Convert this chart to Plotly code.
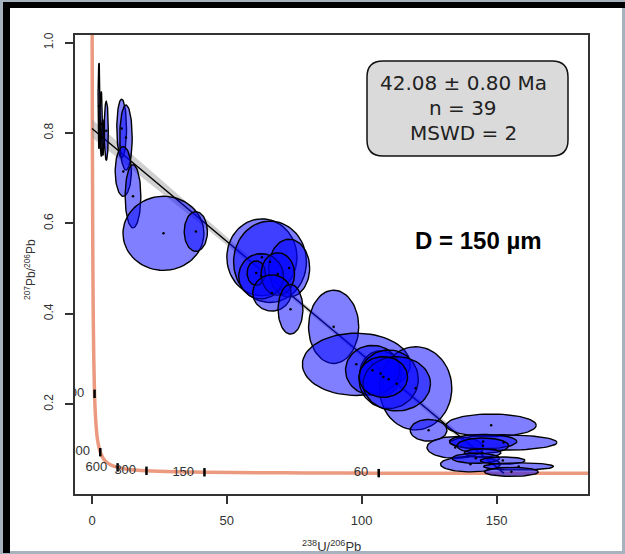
import numpy as np
import plotly.graph_objects as go

W, H = 625, 554
ML, MR, MT, MB = 75, 37, 35, 60
PW = W - ML - MR
PH = H - MT - MB

def X(px):
    return (px - ML) / PW

def Y(py):
    return (H - MB - py) / PH

# ---------------- data ----------------
# error ellipses: centre and semi-axes (data units)
ell_x = [2.6, 3.4, 5.3, 2.9, 4.0,
         11.0, 12.6, 11.6, 15.2,
         26.5, 38.5,
         63.0, 66.0, 73.1, 62.7, 60.9, 68.9, 66.7, 73.6,
         89.6,
         98.0, 107.0, 120.0, 104.0, 110.0, 113.0, 108.0, 124.8, 134.7,
         148.0, 152.6, 145.0, 144.9, 144.8, 140.3, 142.3, 152.3, 158.2, 155.5]
ell_y = [0.860, 0.820, 0.805, 0.800, 0.790,
         0.810, 0.790, 0.715, 0.660,
         0.578, 0.582,
         0.525, 0.515, 0.501, 0.483, 0.490, 0.488, 0.446, 0.410,
         0.371,
         0.288, 0.268, 0.235, 0.275, 0.255, 0.245, 0.260, 0.142, 0.104,
         0.153, 0.115, 0.117, 0.108, 0.092, 0.067, 0.080, 0.075, 0.062, 0.050]
ell_sx = [0.35, 0.45, 0.75, 0.30, 0.40,
          1.8, 2.3, 3.0, 2.9,
          15.0, 4.3,
          13.0, 13.5, 7.6, 8.3, 3.4, 6.2, 7.1, 4.6,
          9.3,
          20.0, 7.7, 13.4, 10.0, 11.0, 12.5, 9.0, 6.8, 10.5,
          16.7, 19.8, 12.5, 9.6, 6.8, 11.1, 8.8, 8.3, 13.0, 10.0]
ell_sy = [0.095, 0.072, 0.065, 0.030, 0.040,
          0.065, 0.072, 0.055, 0.070,
          0.082, 0.044,
          0.085, 0.090, 0.064, 0.050, 0.027, 0.047, 0.040, 0.055,
          0.081,
          0.069, 0.050, 0.092, 0.055, 0.065, 0.060, 0.045, 0.024, 0.024,
          0.025, 0.017, 0.016, 0.017, 0.009, 0.017, 0.011, 0.008, 0.008, 0.010]

# concordia curve (Tera-Wasserburg)
conc_x = [0.0, 0.05, 0.12, 0.25, 0.42, 0.65, 0.95, 1.38, 2.0, 3.07,
          4.14, 5.21, 6.82, 9.5, 13.08, 20.2, 30.95, 41.7, 63.2, 79.3,
          106.3, 127.7, 160.0, 183.0, 214.0]
conc_y = [1.297, 1.046, 0.846, 0.597, 0.425, 0.306, 0.2228, 0.1644, 0.1231, 0.0936,
          0.0802, 0.0725, 0.0658, 0.0599, 0.0560, 0.0524, 0.0501, 0.0491, 0.0480, 0.0476,
          0.0472, 0.0470, 0.0468, 0.0467, 0.0466]

# concordia age ticks
age_labels = ["3000", "1500", "600", "300", "150", "60"]
age_x = [0.95, 3.07, 9.5, 20.2, 41.7, 106.3]
age_y = [0.2228, 0.0936, 0.0599, 0.0524, 0.0491, 0.0472]

# discordia fit and its confidence band
fit_x = [0.0, 152.7]
fit_y = [0.810, 0.0469]
band_x = [0, 10, 25, 45, 70, 100, 130, 153]
band_upper = [0.830, 0.778, 0.699, 0.594, 0.466, 0.316, 0.166, 0.053]
band_lower = [0.790, 0.742, 0.671, 0.576, 0.454, 0.304, 0.154, 0.039]

x_ticks = [0, 50, 100, 150]
y_ticks = [0.2, 0.4, 0.6, 0.8, 1.0]
y_ticklabels = ["0.2", "0.4", "0.6", "0.8", "1.0"]

box_lines = ["42.08 \u00b1 0.80 Ma", "n = 39", "MSWD = 2"]
size_label = "D = 150 \u00b5m"

# ---------------- figure ----------------
fig = go.Figure()

# concordia
fig.add_trace(go.Scatter(x=conc_x, y=conc_y, mode="lines",
                         line=dict(color="#eb9a80", width=3.5, shape="spline", smoothing=0.6),
                         hoverinfo="skip", showlegend=False))

# confidence band
fig.add_trace(go.Scatter(x=band_x + band_x[::-1], y=band_upper + band_lower[::-1],
                         mode="lines", fill="toself", fillcolor="rgba(150,150,150,0.45)",
                         line=dict(width=0), hoverinfo="skip", showlegend=False))
# fit line
fig.add_trace(go.Scatter(x=fit_x, y=fit_y, mode="lines",
                         line=dict(color="black", width=1.4),
                         hoverinfo="skip", showlegend=False))

# ellipses
t = np.linspace(0, 2 * np.pi, 73)
for cx, cy, sx, sy in zip(ell_x, ell_y, ell_sx, ell_sy):
    fig.add_trace(go.Scatter(x=cx + sx * np.cos(t), y=cy + sy * np.sin(t),
                             mode="lines", fill="toself",
                             fillcolor="rgba(0,0,255,0.5)",
                             line=dict(color="black", width=1.4),
                             hoverinfo="skip", showlegend=False))

# ellipse centres
fig.add_trace(go.Scatter(x=ell_x, y=ell_y, mode="markers",
                         marker=dict(color="black", size=2.5),
                         hoverinfo="skip", showlegend=False))

# age ticks on concordia
fig.add_trace(go.Scatter(x=age_x, y=age_y, mode="markers",
                         marker=dict(symbol="line-ns", size=6, line=dict(color="black", width=2.5)),
                         hoverinfo="skip", showlegend=False, cliponaxis=True))
fig.add_trace(go.Scatter(x=age_x, y=age_y, mode="markers+text", text=age_labels,
                         textposition="middle left",
                         textfont=dict(family="Liberation Sans", size=13, color="#333"),
                         marker=dict(size=15, color="rgba(0,0,0,0)"),
                         hoverinfo="skip", showlegend=False, cliponaxis=True))

# ---------------- frame / decorations ----------------
shapes = [
    dict(type="rect", xref="paper", yref="paper", x0=X(10), x1=X(622), y0=Y(551), y1=Y(8),
         fillcolor="white", line=dict(width=0), layer="below"),
    dict(type="rect", xref="paper", yref="paper", x0=X(3), x1=X(625), y0=Y(8), y1=Y(2),
         fillcolor="black", line=dict(width=0), layer="below"),
    dict(type="rect", xref="paper", yref="paper", x0=X(3), x1=X(10), y0=Y(553), y1=Y(2),
         fillcolor="black", line=dict(width=0), layer="below"),
]

bx0, bx1, by0, by1, r = 367, 568, 61, 156, 16
path = (f"M {X(bx0 + r)},{Y(by0)} L {X(bx1 - r)},{Y(by0)} "
        f"Q {X(bx1)},{Y(by0)} {X(bx1)},{Y(by0 + r)} L {X(bx1)},{Y(by1 - r)} "
        f"Q {X(bx1)},{Y(by1)} {X(bx1 - r)},{Y(by1)} L {X(bx0 + r)},{Y(by1)} "
        f"Q {X(bx0)},{Y(by1)} {X(bx0)},{Y(by1 - r)} L {X(bx0)},{Y(by0 + r)} "
        f"Q {X(bx0)},{Y(by0)} {X(bx0 + r)},{Y(by0)} Z")
shapes.append(dict(type="path", xref="paper", yref="paper", path=path,
                   fillcolor="#dadada", line=dict(color="#111", width=1.5), layer="above"))

annotations = []
for txt, py in zip(box_lines, [83, 108, 133]):
    annotations.append(dict(xref="paper", yref="paper", x=X(463), y=Y(py), text=txt,
                            showarrow=False, xanchor="center", yanchor="middle",
                            font=dict(family="DejaVu Sans", size=20, color="#222")))
annotations.append(dict(xref="paper", yref="paper", x=X(478), y=Y(240), text="<b>" + size_label + "</b>",
                        showarrow=False, xanchor="center", yanchor="middle",
                        font=dict(family="Liberation Sans", size=24, color="black")))
annotations.append(dict(xref="paper", yref="paper", x=X(331), y=Y(546),
                        text="<sup>238</sup>U/<sup>206</sup>Pb",
                        showarrow=False, xanchor="center", yanchor="middle",
                        font=dict(family="Liberation Sans", size=13, color="#333")))
annotations.append(dict(xref="paper", yref="paper", x=X(30), y=Y(270),
                        text="<sup>207</sup>Pb/<sup>206</sup>Pb", textangle=-90,
                        showarrow=False, xanchor="center", yanchor="middle",
                        font=dict(family="Liberation Sans", size=12, color="#333")))

fig.update_layout(
    width=W, height=H,
    margin=dict(l=ML, r=MR, t=MT, b=MB, pad=0),
    paper_bgcolor="#a6b2be",
    plot_bgcolor="white",
    shapes=shapes,
    annotations=annotations,
    showlegend=False,
    xaxis=dict(range=[-6.3, 183.9], tickvals=x_ticks, ticks="outside", ticklen=8,
               tickwidth=1.5, tickcolor="#333", showline=True, mirror=True,
               linecolor="#333", linewidth=1.5, showgrid=False, zeroline=False,
               ticklabelstandoff=6,
               tickfont=dict(family="Liberation Sans", size=13, color="#333")),
    yaxis=dict(range=[0.001, 1.017], tickvals=y_ticks, ticktext=y_ticklabels,
               ticks="outside", ticklen=8, tickwidth=1.5, tickcolor="#333",
               showline=True, mirror=True, linecolor="#333", linewidth=1.5,
               showgrid=False, zeroline=False, tickangle=-90, ticklabelstandoff=7,
               tickfont=dict(family="Liberation Sans", size=12, color="#333")),
)

fig.write_html("out.html", config={"displayModeBar": False},
               post_script="document.body.style.margin='0px';")
